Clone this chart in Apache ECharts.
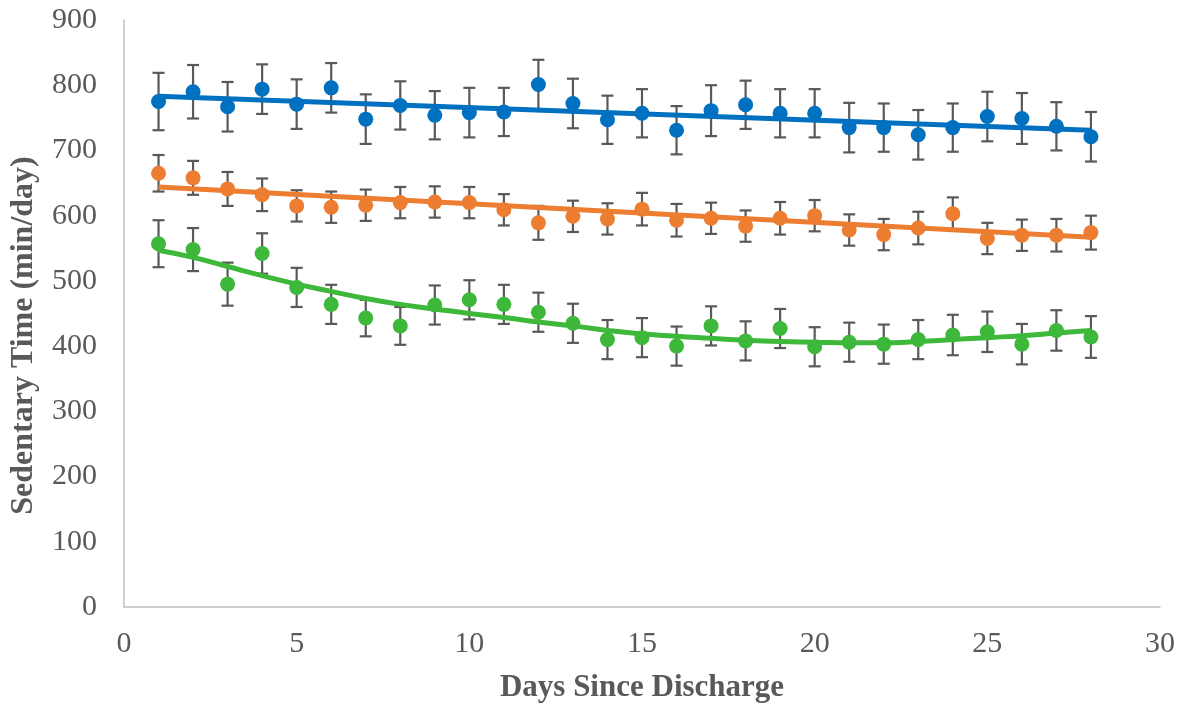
<!DOCTYPE html>
<html>
<head>
<meta charset="utf-8">
<script src="https://cdn.jsdelivr.net/npm/echarts@6/dist/echarts.min.js"></script>
<style>
html,body{margin:0;padding:0;background:#fff;}
#chart{width:1190px;height:713px;}
</style>
</head>
<body>
<div id="chart"></div>
<script>
const days = [1,2,3,4,5,6,7,8,9,10,11,12,13,14,15,16,17,18,19,20,21,22,23,24,25,26,27,28];
const xTicks = [0,5,10,15,20,25,30];
const yTicks = [0,100,200,300,400,500,600,700,800,900];

const blueMean = [775,790,767,794,771,796,748,769,754,758,759,801,772,747,757,731,761,770,757,757,735,735,724,735,752,749,737,721];
const blueErr  = [44,41,38,38,38,38,38,37,37,38,37,38,38,37,37,37,39,37,37,37,38,37,38,37,38,39,37,38];
const orangeMean = [665,658,641,632,615,613,616,620,621,620,609,589,599,595,610,593,596,584,596,600,578,571,581,603,565,570,570,574];
const orangeErr  = [28,26,26,25,24,24,24,24,24,24,24,26,24,24,25,25,24,24,25,24,24,24,25,25,24,24,25,26];
const greenMean = [557,548,495,542,490,464,443,431,463,471,464,452,435,410,413,400,431,408,427,399,406,403,410,417,422,403,424,414];
const greenErr  = [36,33,33,31,30,30,28,29,30,30,30,30,30,30,30,30,30,30,30,30,30,30,30,31,31,31,31,32];

// trend lines
const blueTrendDays = [1,28];
const blueTrend = [783,731];
const orangeTrendDays = [1,28];
const orangeTrend = [644,567];
const greenTrend = [547,536,522,508,495,484,473,464,457,450,444,437,431,424,419,415,412,409,407,406,405,405,407,410,413,416,420,424];

const BLUE = '#0070C0', ORANGE = '#ED7D31', GREEN = '#3DB83A', ERR = '#595959';

function pairs(xs, ys){ return xs.map((x,i)=>[x, ys[i]]); }
function errData(mean, err){ return days.map((d,i)=>[d, mean[i]-err[i], mean[i]+err[i]]); }

function errSeries(mean, err){
  return {
    type:'custom', z:1, silent:true,
    data: errData(mean, err),
    encode:{x:0, y:[1,2]},
    renderItem: function(params, api){
      const x = api.value(0);
      const lo = api.coord([x, api.value(1)]);
      const hi = api.coord([x, api.value(2)]);
      const w = 6;
      const st = {stroke:ERR, lineWidth:2.2};
      return {type:'group', children:[
        {type:'line', shape:{x1:lo[0],y1:lo[1],x2:hi[0],y2:hi[1]}, style:st},
        {type:'line', shape:{x1:hi[0]-w,y1:hi[1],x2:hi[0]+w,y2:hi[1]}, style:st},
        {type:'line', shape:{x1:lo[0]-w,y1:lo[1],x2:lo[0]+w,y2:lo[1]}, style:st}
      ]};
    }
  };
}
function trendSeries(data, color){
  return {type:'line', z:2, data:data, smooth:true, symbol:'none', silent:true,
    lineStyle:{color:color, width:5}};
}
function ptSeries(mean, color){
  return {type:'scatter', z:3, data:pairs(days, mean), symbol:'circle', symbolSize:15,
    itemStyle:{color:color, opacity:1}};
}

const chart = echarts.init(document.getElementById('chart'));
chart.setOption({
  animation:false,
  backgroundColor:'#fff',
  grid:{left:122, right:30, top:20, bottom:106},
  xAxis:{
    type:'value', min:0, max:30, interval:5,
    name:'Days Since Discharge', nameLocation:'middle', nameGap:65,
    nameTextStyle:{fontFamily:'Liberation Serif', fontWeight:'bold', fontSize:31, color:'#595959'},
    axisLine:{show:true, lineStyle:{color:'#BFBFBF', width:1.5}},
    axisTick:{show:false},
    splitLine:{show:false},
    axisLabel:{fontFamily:'Liberation Serif', fontSize:30, color:'#595959', margin:22,
      formatter:function(v){ return xTicks.indexOf(v)>=0 ? String(v) : ''; }}
  },
  yAxis:{
    type:'value', min:0, max:900, interval:100,
    name:'Sedentary Time (min/day)', nameLocation:'middle', nameGap:84,
    nameTextStyle:{fontFamily:'Liberation Serif', fontWeight:'bold', fontSize:32, color:'#595959',
      padding:[0,44,0,0]},
    axisLine:{show:true, lineStyle:{color:'#BFBFBF', width:1.5}},
    axisTick:{show:false},
    splitLine:{show:false},
    axisLabel:{fontFamily:'Liberation Serif', fontSize:30, color:'#595959', margin:27,
      formatter:function(v){ return yTicks.indexOf(v)>=0 ? String(v) : ''; }}
  },
  series:[
    errSeries(blueMean, blueErr),
    errSeries(orangeMean, orangeErr),
    errSeries(greenMean, greenErr),
    trendSeries(pairs(blueTrendDays, blueTrend), BLUE),
    trendSeries(pairs(orangeTrendDays, orangeTrend), ORANGE),
    trendSeries(pairs(days, greenTrend), GREEN),
    ptSeries(blueMean, BLUE),
    ptSeries(orangeMean, ORANGE),
    ptSeries(greenMean, GREEN)
  ]
});
</script>
</body>
</html>
